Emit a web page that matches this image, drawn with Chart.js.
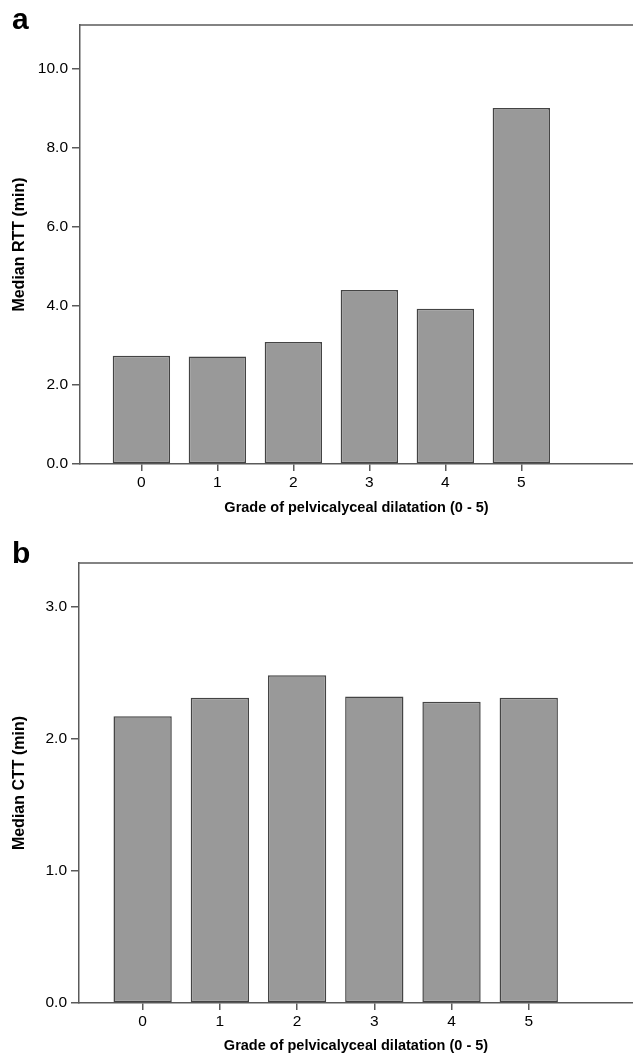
<!DOCTYPE html>
<html><head><meta charset="utf-8">
<script src="https://cdn.jsdelivr.net/npm/chart.js@4.4.0/dist/chart.umd.min.js"></script>
<style>
html,body{margin:0;padding:0;background:#fff;}
.panel{position:relative;width:633px;height:528px;}
.panel canvas{position:absolute;left:0;top:0;}
.lbl{position:absolute;left:12px;font:bold 30px "Liberation Sans",Arial,sans-serif;line-height:30px;color:#000;}
</style></head><body>
<div class="panel"><canvas id="ca" width="633" height="528"></canvas><div class="lbl" style="top:4px">a</div></div>
<div class="panel"><canvas id="cb" width="633" height="528"></canvas><div class="lbl" style="top:10px">b</div></div>
<script>
const grades = [0, 1, 2, 3, 4, 5];
const rttValues = [2.74, 2.72, 3.09, 4.41, 3.93, 9.02];
const cttValues = [2.17, 2.31, 2.48, 2.32, 2.28, 2.31];
const rttTicks = [0, 2, 4, 6, 8, 10];
const cttTicks = [0, 1, 2, 3];
const xTitle = 'Grade of pelvicalyceal dilatation (0 - 5)';
const rttTitle = 'Median RTT (min)';
const cttTitle = 'Median CTT (min)';

const FONT = '"Liberation Sans", Arial, sans-serif';
const AXIS = '#5a5a5a';

const frameTop = {
  id: 'frameTop',
  afterDraw(chart) {
    const {ctx, chartArea: a} = chart;
    ctx.save();
    ctx.strokeStyle = AXIS; ctx.lineWidth = 1.5;
    ctx.beginPath(); ctx.moveTo(a.left, a.top); ctx.lineTo(a.right, a.top); ctx.stroke();
    ctx.restore();
  }
};

function makeChart(id, values, yTicks, yMax, yTitle, o) {
  new Chart(document.getElementById(id), {
    type: 'bar',
    data: {
      datasets: [{
        data: grades.map((g, i) => ({x: g, y: values[i]})),
        backgroundColor: '#999999',
        borderColor: '#444444',
        borderWidth: 1.5,
        borderSkipped: false,
        barPercentage: 0.755,
        categoryPercentage: 1.0
      }]
    },
    plugins: [frameTop],
    options: {
      responsive: false,
      animation: false,
      devicePixelRatio: 1,
      layout: {padding: {top: o.padTop, right: 0, left: 0, bottom: 0}},
      plugins: {legend: {display: false}, tooltip: {enabled: false}},
      scales: {
        x: {
          type: 'linear',
          offset: false,
          min: o.xMin, max: o.xMax,
          afterBuildTicks: s => { s.ticks = grades.map(v => ({value: v})); },
          afterFit: s => { s.height = o.xHeight; },
          grid: {offset: false, drawOnChartArea: false, tickLength: 7, color: AXIS, lineWidth: 1.5},
          border: {color: AXIS, width: 1.5},
          ticks: {color: '#000', font: {family: FONT, size: 15.5}, padding: 2, callback: v => String(v)},
          title: {display: true, text: xTitle, color: '#000', font: {family: FONT, size: 14.5, weight: 'bold'}, padding: {top: 0, bottom: o.titleBottom}}
        },
        y: {
          min: 0, max: yMax,
          afterBuildTicks: s => { s.ticks = yTicks.map(v => ({value: v})); },
          afterFit: s => { s.width = o.yWidth; },
          grid: {drawOnChartArea: false, tickLength: 8, color: AXIS, lineWidth: 1.5},
          border: {color: AXIS, width: 1.5},
          ticks: {color: '#000', font: {family: FONT, size: 15.5}, padding: 4, callback: v => v.toFixed(1)},
          title: {display: true, text: yTitle, color: '#000', font: {family: FONT, size: 16, weight: 'bold'}, padding: {top: 10, bottom: 0}}
        }
      }
    }
  });
}

makeChart('ca', rttValues, rttTicks, 11.12, rttTitle,
  {padTop: 25, xHeight: 64, titleBottom: 11, yWidth: 80, xMin: -0.808, xMax: 6.47});
makeChart('cb', cttValues, cttTicks, 3.33, cttTitle,
  {padTop: 35, xHeight: 53, titleBottom: 1, yWidth: 79, xMin: -0.824, xMax: 6.35});
</script>
</body></html>
